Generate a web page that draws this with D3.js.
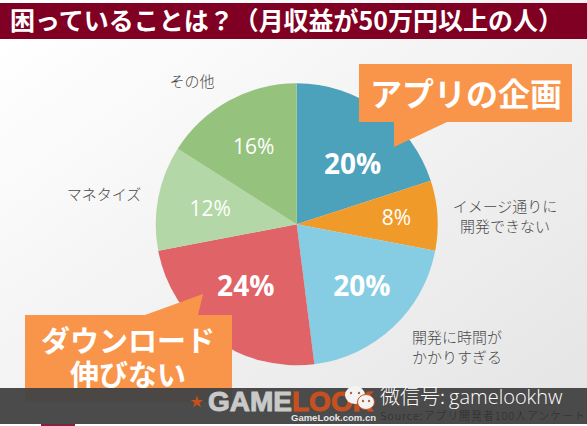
<!DOCTYPE html>
<html><head><meta charset="utf-8">
<script src="https://cdn.jsdelivr.net/npm/d3@7/dist/d3.min.js"></script>
<style>html,body{margin:0;padding:0;background:#fff}svg{display:block}text{font-family:"Noto Sans CJK JP","Noto Sans",sans-serif}</style>
</head><body><div id="chart"></div>
<script>
const titleText = "困っていることは？（月収益が50万円以上の人）";
const categories = ["アプリの企画","イメージ通りに|開発できない","開発に時間が|かかりすぎる","ダウンロード|伸びない","マネタイズ","その他"];
const values = [20,8,20,24,12,16];
const sliceColors = ["#4ca1bb","#f09a2a","#86cde3","#e06367","#b3d7a6","#95c37d"];
const emphasised = [true,false,true,true,false,false];
const labelNudge = [[6,7],[15,-2],[7,-1],[-1,-8],[-3,0],[-2,-4]];
const outerLabels = [null,[505,215],[457,346],null,[104,193],[192,80]];
const W=587,H=426,cx=296.7,cy=224.3,R=141;

const svg=d3.select("#chart").append("svg").attr("width",W).attr("height",H);
const defs=svg.append("defs");
const g=defs.append("linearGradient").attr("id","bg").attr("x1","0").attr("y1","0").attr("x2","1").attr("y2","1");
g.append("stop").attr("offset","0.05").attr("stop-color","#ffffff");
g.append("stop").attr("offset","1").attr("stop-color","#e4e4e4");
svg.append("rect").attr("width",W).attr("height",H).attr("fill","url(#bg)");

svg.append("rect").attr("y",3).attr("width",W).attr("height",36).attr("fill","#7f0022");
svg.append("text").attr("x",10).attr("y",30).attr("font-size",25).attr("font-weight",700).attr("fill","#fff")
  .attr("textLength",553).attr("lengthAdjust","spacing").text(titleText);

const pie=d3.pie().value(d=>d).sort(null);
const arc=d3.arc().innerRadius(0).outerRadius(R);
const labelArc=d3.arc().innerRadius(85).outerRadius(85);
const arcs=pie(values);
const pg=svg.append("g").attr("transform",`translate(${cx},${cy})`);
pg.selectAll("path").data(arcs).join("path").attr("d",arc).attr("fill",(d,i)=>sliceColors[i]);
pg.selectAll("text").data(arcs).join("text")
  .attr("x",(d,i)=>labelArc.centroid(d)[0]+labelNudge[i][0])
  .attr("y",(d,i)=>labelArc.centroid(d)[1]+labelNudge[i][1])
  .attr("text-anchor","middle").attr("dominant-baseline","central")
  .attr("fill","#fff").style("font-family","'Open Sans',sans-serif")
  .attr("font-size",(d,i)=>emphasised[i]?28:21)
  .attr("font-weight",(d,i)=>emphasised[i]?700:400)
  .text(d=>d.value+"%");

outerLabels.forEach((p,i)=>{
  if(!p) return;
  const lines=categories[i].split("|");
  lines.forEach((l,j)=>{
    svg.append("text").attr("x",p[0]).attr("y",p[1]+(j-(lines.length-1)/2)*20)
      .attr("text-anchor","middle").attr("dominant-baseline","central")
      .attr("font-size",15).attr("font-weight",300).attr("fill","#4a4a4a").text(l);
  });
});

const callout="#f9954a";
svg.append("path").attr("fill",callout).attr("d",d3.line()([[359,64],[572,64],[572,122],[447,122],[394,147],[394,122],[359,122]])+"Z");
svg.append("path").attr("fill",callout).attr("d",d3.line()([[25,315],[145,315],[203,294],[198,315],[232,315],[232,402],[25,402]])+"Z");
svg.append("text").attr("x",466).attr("y",92).attr("text-anchor","middle").attr("dominant-baseline","central")
  .attr("font-size",32).attr("font-weight",700).attr("fill","#fff").text(categories[0]);
categories[3].split("|").forEach((l,j)=>{
  svg.append("text").attr("x",128).attr("y",339+j*34).attr("text-anchor","middle").attr("dominant-baseline","central")
    .attr("font-size",29).attr("font-weight",700).attr("fill","#fff").text(l);
});

// watermark band
svg.append("rect").attr("y",388).attr("width",W).attr("height",36).attr("fill","#444").attr("fill-opacity",0.96);
svg.append("rect").attr("y",424).attr("width",W).attr("height",2).attr("fill","#fff");
svg.append("rect").attr("x",41).attr("y",424).attr("width",34).attr("height",2).attr("fill","#8a2040");
svg.append("path").attr("transform","translate(197,402)").attr("d",d3.symbol(d3.symbolStar,50)()).attr("fill","#c8501e");
const logo=svg.append("text").attr("x",208).attr("y",411).attr("font-size",28).attr("font-weight",700)
  .style("font-family","'Liberation Sans',sans-serif").attr("fill","#c9c9c9").attr("stroke-width",1);
logo.append("tspan").attr("stroke","#c9c9c9").text("GAME");
logo.append("tspan").attr("fill","#c8501e").attr("stroke","#c8501e").text("LOOK");
svg.append("text").attr("x",291).attr("y",421).attr("font-size",9.5).attr("font-weight",700)
  .style("font-family","'Liberation Sans',sans-serif").attr("fill","#e8e8e8").text("GameLook.com.cn");
const wx=svg.append("text").attr("x",380).attr("y",404).attr("font-weight",300).attr("fill","#fff");
wx.append("tspan").attr("font-size",20).text("微信号:");
wx.append("tspan").attr("font-size",20).attr("dx",4).style("font-family","'Open Sans',sans-serif").text("gamelookhw");
svg.append("text").attr("x",380).attr("y",420).attr("font-size",11).attr("font-weight",300).attr("fill","#2c2c2c")
  .attr("textLength",205).text("Source:アプリ開発者100人アンケート");
const wc=svg.append("g");
wc.append("ellipse").attr("cx",355).attr("cy",395).attr("rx",10).attr("ry",9).attr("fill","#f4f4f4");
wc.append("ellipse").attr("cx",366).attr("cy",402).attr("rx",8.5).attr("ry",7.5).attr("fill","#f4f4f4").attr("stroke","#c8501e").attr("stroke-width",1);
[[351,393],[359,393],[363,401],[369,401]].forEach(p=>wc.append("circle").attr("cx",p[0]).attr("cy",p[1]).attr("r",1.2).attr("fill","#a5673f"));
</script></body></html>
